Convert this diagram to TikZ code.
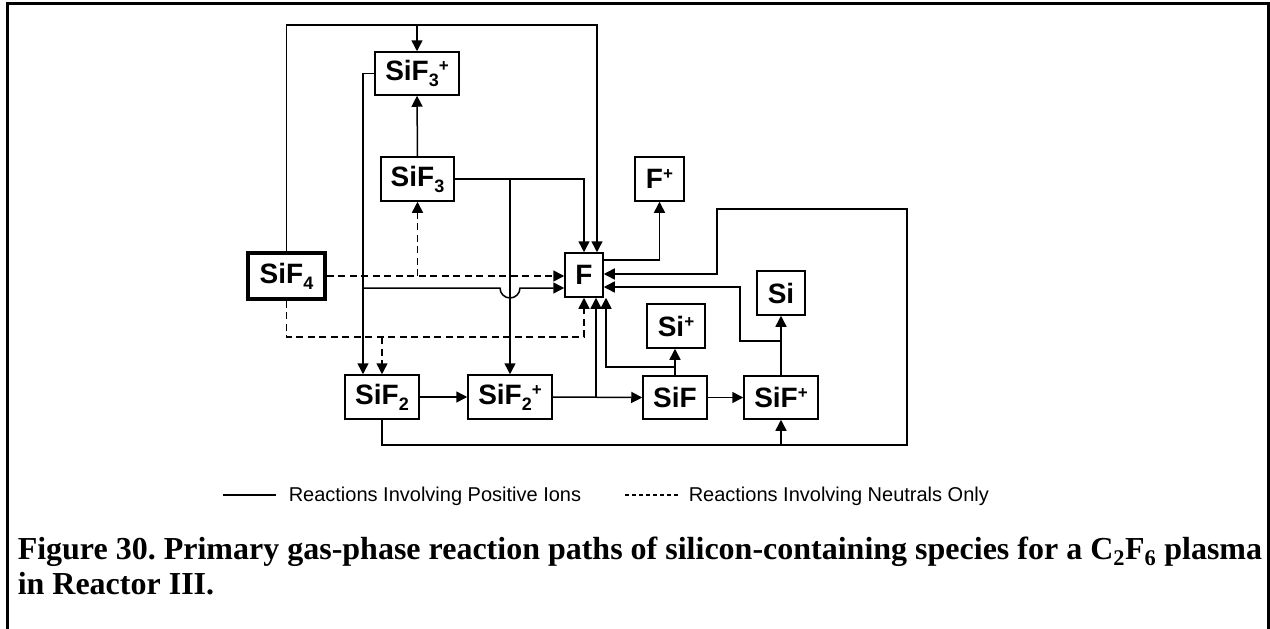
\documentclass[tikz,border=0pt]{standalone}
\usepackage{fontspec}
\setmainfont{Liberation Sans}
\newfontfamily\capfont{Liberation Serif}
\usetikzlibrary{arrows.meta,calc}
\frenchspacing
\newcommand\mysb[1]{\raisebox{-6pt}{\fontsize{18}{18}\selectfont #1}}
\newcommand\mysp[1]{\raisebox{9pt}{\fontsize{17}{17}\selectfont #1}}
\begin{document}
\begin{tikzpicture}[x=1pt,y=-1pt,line width=1.5pt,
  box/.style={draw, line width=1.5pt, inner sep=0pt, font=\bfseries\fontsize{28}{30}\selectfont},
  arr/.style={-{Triangle[length=11pt,width=11pt]}},
  dsh/.style={dash pattern=on 7pt off 4.5pt},
  legtext/.style={anchor=base west, inner sep=0pt, font=\fontsize{20}{22}\selectfont},
  captext/.style={anchor=base west, inner sep=0pt, font=\capfont\bfseries\fontsize{32}{34}\selectfont}]
\useasboundingbox (0,0) rectangle (1270,629);
% frame
\draw[line width=3pt] (7,640) -- (7,3) -- (1268,3) -- (1268,640);
% nodes
\node[box, minimum width=84pt, minimum height=43pt] (SiF3p) at (417,73.5) {SiF\mysb{3}\mysp{+}};
\node[box, minimum width=73pt, minimum height=44pt] (SiF3) at (417.5,179) {SiF\mysb{3}};
\node[box, line width=3.5pt, minimum width=77pt, minimum height=46pt] (SiF4) at (286.5,276) {SiF\mysb{4}};
\node[box, minimum width=38pt, minimum height=44pt] (F) at (584,275) {F};
\node[box, minimum width=49pt, minimum height=44pt] (Fp) at (659.5,179) {F\mysp{+}};
\node[box, minimum width=48pt, minimum height=44pt] (Si) at (781,293) {Si};
\node[box, minimum width=58pt, minimum height=44pt] (Sip) at (676,326) {Si\mysp{+}};
\node[box, minimum width=74pt, minimum height=44pt] (SiF2) at (382,397) {SiF\mysb{2}};
\node[box, minimum width=84pt, minimum height=44pt] (SiF2p) at (510,397) {SiF\mysb{2}\mysp{+}};
\node[box, minimum width=64pt, minimum height=43pt] (SiF) at (675,397.5) {SiF};
\node[box, minimum width=74pt, minimum height=43pt] (SiFp) at (781,397.5) {SiF\mysp{+}};
% junction coordinates
\coordinate (j1) at (597,25);
\coordinate (j3) at (363,288);
\coordinate (j6) at (0,337);
\coordinate (j8) at (596,0);
\coordinate (j9) at (0,260);
\coordinate (j10) at (606,367);
\coordinate (j12) at (740,341);
\coordinate (j12b) at (740,287);
\coordinate (j13) at (907,445);
\coordinate (j13b) at (717,209);
\coordinate (j13c) at (0,274);
% connectors
\draw[arr] (SiF4.north) |- (j1) -- (F.north -| j1);
\draw[arr] (SiF3p.north |- j1) -- (SiF3p.north);
\draw[arr] (SiF3.north) -- (SiF3p.south);
\draw[arr] (SiF3p.west) -| (SiF2.north -| j3);
\draw[arr] (j3) -- ($(SiF2p.north |- j3)+(-10,0)$) arc[start angle=180, end angle=0, radius=10] -- (F.west |- j3);
\draw[arr] (SiF3.east) -| (F.north);
\draw[arr] (SiF3.east -| SiF2p.north) -- (SiF2p.north);
\draw[dsh,arr] (SiF4.east) -- (F.west |- SiF4.east);
\draw[dsh,arr] (SiF4.east -| SiF3.south) -- (SiF3.south);
\draw[dsh,arr] (SiF4.south) |- (F.south |- j6) -- (F.south);
\draw[dsh,arr] (SiF2.north |- j6) -- (SiF2.north);
\draw[arr] (SiF2.east) -- (SiF2p.west);
\draw[arr] (SiF2p.east) -- (SiF.west);
\draw[arr] (j8 |- SiF2p.east) -- (F.south -| j8);
\draw[arr] (F.east |- j9) -| (Fp.south);
\draw[arr] (SiF.north) -- (Sip.south -| SiF.north);
\draw[arr] (SiF.north |- j10) -| (F.south -| j10);
\draw[arr] (SiF.east) -- (SiFp.west);
\draw[arr] (SiFp.north) -- (Si.south);
\draw[arr] (SiFp.north |- j12) -- (j12) -- (j12b) -- (F.east |- j12b);
\draw[arr] (SiF2.south) |- (j13) |- (j13b) -- (j13b |- j13c) -- (F.east |- j13c);
\draw[arr] (SiFp.south |- j13) -- (SiFp.south);
% legend
\coordinate (l1a) at (223,495);
\coordinate (l1b) at (276,495);
\coordinate (l2a) at (625,495);
\coordinate (l2b) at (678,495);
\draw[line width=1.2pt] (l1a) -- (l1b);
\draw[line width=1.2pt, dash pattern=on 4pt off 3pt] (l2a) -- (l2b);
\node[legtext] (leg1) at (288,501) {Reactions Involving Positive Ions};
\node[legtext] (leg2) at (688,501) {Reactions Involving Neutrals Only};
% caption
\node[captext] (cap1) at (17,559) {Figure 30. Primary gas-phase reaction paths of silicon-containing species for a C\textsubscript{2}F\textsubscript{6} plasma};
\node[captext] (cap2) at (17,594) {in Reactor III.};
\end{tikzpicture}
\end{document}
